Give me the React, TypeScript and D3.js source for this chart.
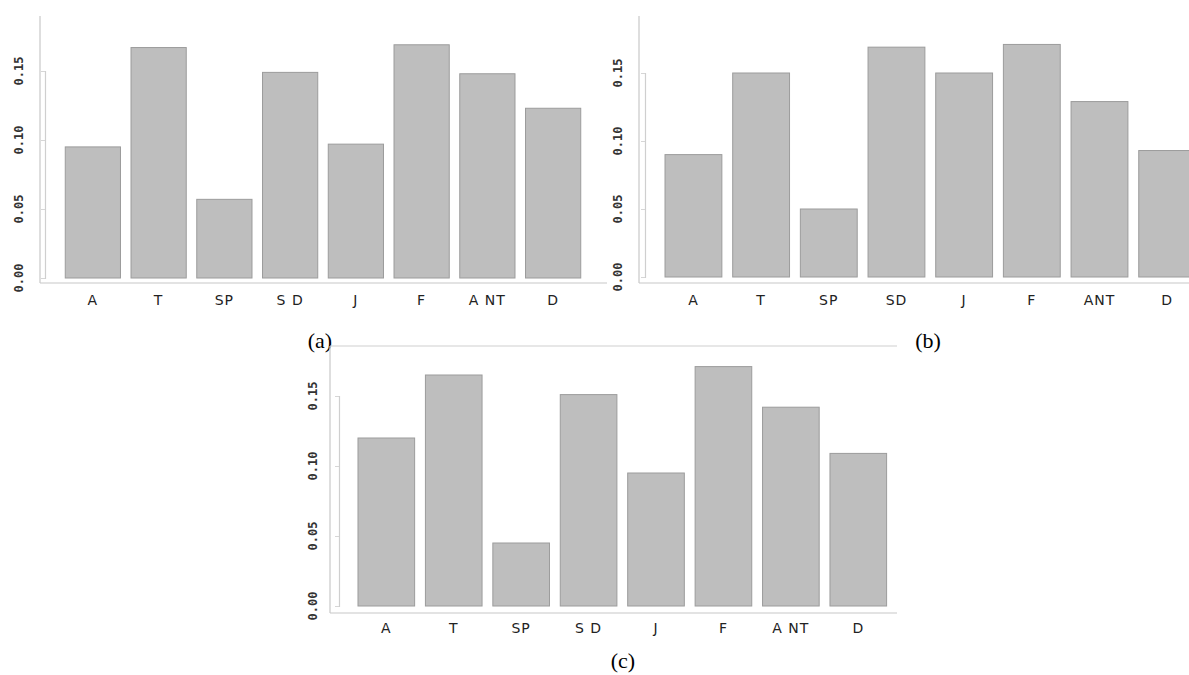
import React, { useEffect, useRef } from "react";
import * as d3 from "d3";

const categories = ["A", "T", "SP", "SD", "J", "F", "ANT", "D"];
const labelsA = ["A", "T", "SP", "S D", "J", "F", "A NT", "D"];
const labelsB = ["A", "T", "SP", "SD", "J", "F", "ANT", "D"];
const labelsC = ["A", "T", "SP", "S D", "J", "F", "A NT", "D"];

const valuesA = [0.095, 0.167, 0.057, 0.149, 0.097, 0.169, 0.148, 0.123];
const valuesB = [0.09, 0.15, 0.05, 0.169, 0.15, 0.171, 0.129, 0.093];
const valuesC = [0.12, 0.165, 0.045, 0.151, 0.095, 0.171, 0.142, 0.109];

const yTicks = [0, 0.05, 0.1, 0.15];
const yTickLabels = ["0.00", "0.05", "0.10", "0.15"];

const W = 1189;
const H = 675;

// page positions of each panel
const PANELS = [
  { labels: labelsA, values: valuesA, caption: "(a)", axisX: 40, top: 16, bottom: 283, right: 607,
    barX0: 60, barX1: 586, y0: 278, yTop: 71, bracketX: 45, tickLabelX: 19, xLabelY: 305,
    capX: 320, capY: 348, topLine: false },
  { labels: labelsB, values: valuesB, caption: "(b)", axisX: 639, top: 16, bottom: 283, right: 1189,
    barX0: 659.6, barX1: 1201, y0: 277, yTop: 73, bracketX: 645, tickLabelX: 618, xLabelY: 305,
    capX: 928, capY: 348, topLine: false },
  { labels: labelsC, values: valuesC, caption: "(c)", axisX: 330, top: 346, bottom: 613, right: 897,
    barX0: 352.6, barX1: 892, y0: 606, yTop: 396, bracketX: 339, tickLabelX: 313, xLabelY: 633,
    capX: 623, capY: 668, topLine: true },
];

export default function App() {
  const ref = useRef<SVGSVGElement>(null);

  useEffect(() => {
    const svg = d3.select(ref.current);
    svg.selectAll("*").remove();

    PANELS.forEach((p) => {
      const g = svg.append("g");

      const x = d3
        .scaleBand()
        .domain(categories)
        .range([p.barX0, p.barX1])
        .paddingInner(0.16)
        .paddingOuter(0.08);

      const y = d3.scaleLinear().domain([0, 0.15]).range([p.y0, p.yTop]);

      // frame lines
      g.append("line")
        .attr("x1", p.axisX).attr("x2", p.axisX)
        .attr("y1", p.top).attr("y2", p.bottom)
        .attr("stroke", "#c8c8c8").attr("stroke-width", 1.2);
      g.append("line")
        .attr("x1", p.axisX).attr("x2", p.right)
        .attr("y1", p.bottom).attr("y2", p.bottom)
        .attr("stroke", "#c8c8c8").attr("stroke-width", 1.2);
      if (p.topLine) {
        g.append("line")
          .attr("x1", p.axisX).attr("x2", p.right)
          .attr("y1", p.top).attr("y2", p.top)
          .attr("stroke", "#d0d0d0").attr("stroke-width", 1.2);
      }

      // bracket style y axis
      const yAxis = d3
        .axisLeft(y)
        .tickValues(yTicks)
        .tickSize(4)
        .tickSizeOuter(4)
        .tickFormat(() => "");
      const ax = g.append("g").attr("transform", `translate(${p.bracketX},0)`).call(yAxis);
      ax.select(".domain").attr("stroke", "#cfcfcf").attr("stroke-width", 1.2);
      ax.selectAll(".tick line").attr("stroke", "#d6d6d6");

      yTicks.forEach((t, i) => {
        g.append("text")
          .attr("transform", `translate(${p.tickLabelX},${y(t)}) rotate(-90)`)
          .attr("text-anchor", "middle")
          .attr("dominant-baseline", "central")
          .attr("font-family", "DejaVu Sans Mono")
          .attr("font-weight", "bold")
          .attr("font-size", 12)
          .attr("fill", "#333")
          .text(yTickLabels[i]);
      });

      g.selectAll("rect.bar")
        .data(p.values)
        .enter()
        .append("rect")
        .attr("class", "bar")
        .attr("x", (d, i) => x(categories[i]) as number)
        .attr("y", (d) => y(d))
        .attr("width", x.bandwidth())
        .attr("height", (d) => p.y0 - y(d))
        .attr("fill", "#bebebe")
        .attr("stroke", "#9c9c9c")
        .attr("stroke-width", 1);

      categories.forEach((c, i) => {
        g.append("text")
          .attr("x", (x(c) as number) + x.bandwidth() / 2)
          .attr("y", p.xLabelY)
          .attr("text-anchor", "middle")
          .attr("font-family", "DejaVu Sans")
          .attr("font-size", 14)
          .attr("letter-spacing", 1)
          .attr("fill", "#222")
          .text(p.labels[i]);
      });

      svg.append("text")
        .attr("x", p.capX)
        .attr("y", p.capY)
        .attr("text-anchor", "middle")
        .attr("font-family", "Liberation Serif")
        .attr("font-size", 22)
        .attr("fill", "#000")
        .text(p.caption);
    });
  }, []);

  return (
    <div style={{ position: "absolute", left: 0, top: 0 }}>
      <svg ref={ref} width={W} height={H} style={{ display: "block", background: "#fff" }} />
    </div>
  );
}
